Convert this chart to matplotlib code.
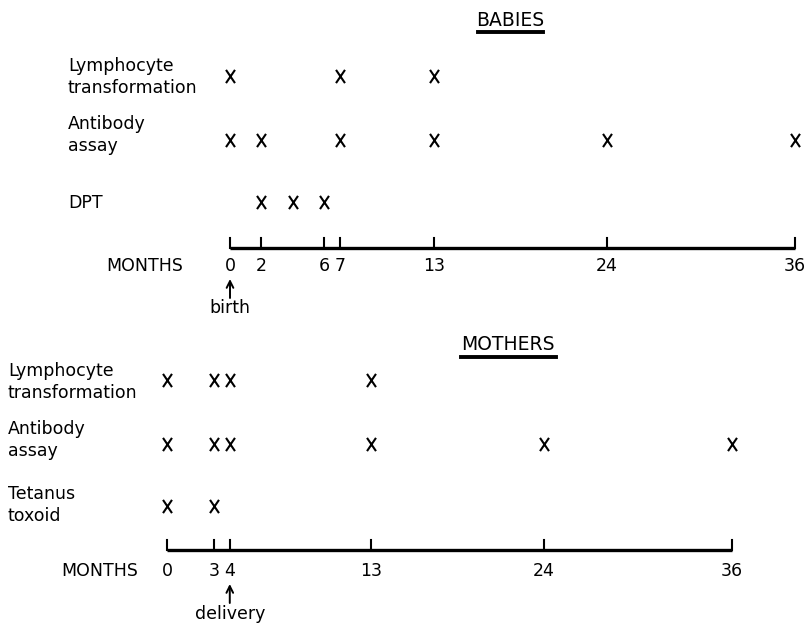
import matplotlib
matplotlib.use("Agg")
import matplotlib.pyplot as plt
from matplotlib.lines import Line2D
from matplotlib.path import Path

# ---------------- data ----------------
baby_rows = ["Lymphocyte\ntransformation", "Antibody\nassay", "DPT"]
baby_lymph = [0, 7, 13]
baby_antibody = [0, 2, 7, 13, 24, 36]
baby_dpt = [2, 4, 6]
baby_ticks = [0, 2, 6, 7, 13, 24, 36]
baby_event_month = 0
baby_event_label = "birth"

mother_rows = ["Lymphocyte\ntransformation", "Antibody\nassay", "Tetanus\ntoxoid"]
mother_lymph = [0, 3, 4, 13]
mother_antibody = [0, 3, 4, 13, 24, 36]
mother_tetanus = [0, 3]
mother_ticks = [0, 3, 4, 13, 24, 36]
mother_event_month = 4
mother_event_label = "delivery"

# ---------------- layout ----------------
W, H = 809, 626
fig = plt.figure(figsize=(W / 100, H / 100), dpi=100)
plt.rcParams['font.family'] = ['DejaVu Sans']
FS = 12.5
px_per_month = 565 / 36.0

# tall letter-like "x" marker
xmark = Path([(-0.34, -0.5), (0.34, 0.5), (-0.34, 0.5), (0.34, -0.5)],
             [Path.MOVETO, Path.LINETO, Path.MOVETO, Path.LINETO])


def make_axes(top_px, bot_px, zero_px):
    ax = fig.add_axes([0, 1 - bot_px / H, 1, (bot_px - top_px) / H])
    ax.set_xlim(-zero_px / px_per_month, (W - zero_px) / px_per_month)
    ax.set_ylim(bot_px, top_px)
    ax.axis('off')
    return ax


def draw_panel(ax, rows, series, row_y, label_y, label_x_px, zero_px, ticks,
               axis_y, label_row_y, months_right_px, event_month, event_label,
               arrow_y0, arrow_y1, event_text_y):
    to_month = lambda px: (px - zero_px) / px_per_month
    for name, ly in zip(rows, label_y):
        ax.text(to_month(label_x_px), ly, name, fontsize=FS, ha='left', va='center',
                linespacing=1.3)
    for vals, y in zip(series, row_y):
        ax.plot(vals, [y] * len(vals), linestyle='none', marker=xmark, color='black',
                markersize=9.5, markeredgewidth=1.5)
    # time axis
    ax.plot([ticks[0], ticks[-1]], [axis_y, axis_y], color='black', lw=2.4,
            solid_capstyle='butt')
    for t in ticks:
        ax.plot([t, t], [axis_y, axis_y - 10], color='black', lw=1.5)
        ax.text(t, label_row_y, str(t), fontsize=FS, ha='center', va='center')
    ax.text(to_month(months_right_px), label_row_y, "MONTHS", fontsize=FS,
            ha='right', va='center')
    ax.annotate("", xy=(event_month, arrow_y1), xytext=(event_month, arrow_y0),
                arrowprops=dict(arrowstyle='->', color='black', lw=1.4,
                                shrinkA=0, shrinkB=0, mutation_scale=12))
    ax.text(event_month, event_text_y, event_label, fontsize=FS, ha='center',
            va='center')


ax_b = make_axes(0, 320, 230)
draw_panel(ax_b, baby_rows, [baby_lymph, baby_antibody, baby_dpt],
           row_y=[76, 140, 202], label_y=[77, 135, 203], label_x_px=68,
           zero_px=230, ticks=baby_ticks, axis_y=248, label_row_y=266,
           months_right_px=183, event_month=baby_event_month,
           event_label=baby_event_label, arrow_y0=298, arrow_y1=279,
           event_text_y=308)

ax_m = make_axes(320, 626, 167)
draw_panel(ax_m, mother_rows, [mother_lymph, mother_antibody, mother_tetanus],
           row_y=[380, 444, 506], label_y=[382, 440, 505], label_x_px=8,
           zero_px=167, ticks=mother_ticks, axis_y=550, label_row_y=571,
           months_right_px=138, event_month=mother_event_month,
           event_label=mother_event_label, arrow_y0=603, arrow_y1=584,
           event_text_y=614)

# titles with underline
for title, cx, ty, x0, x1, uy in [("BABIES", 510, 20, 478, 543, 32),
                                  ("MOTHERS", 508, 345, 461, 556, 357)]:
    fig.text(cx / W, 1 - ty / H, title, fontsize=13.5, ha='center', va='center')
    fig.add_artist(Line2D([x0 / W, x1 / W], [1 - uy / H, 1 - uy / H],
                          color='black', lw=2.8, transform=fig.transFigure))

fig.savefig("out.png", dpi=100, facecolor='white')
